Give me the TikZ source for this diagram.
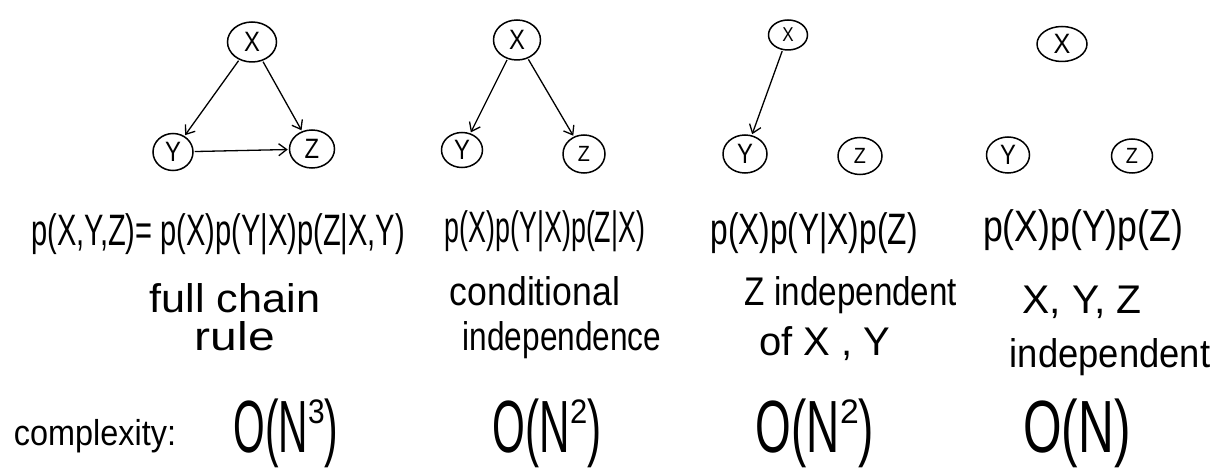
\documentclass[tikz,border=0pt]{standalone}
\usepackage{fontspec}
\setmainfont{Liberation Sans}
\usetikzlibrary{arrows.meta,shapes.geometric}
\newcommand\hw[2]{\scalebox{#1}[1]{#2}}
\newcommand\supr[1]{\raisebox{0.38em}{\fontsize{34}{34}\selectfont\scalebox{1.6}[1]{#1}}}
\begin{document}
\begin{tikzpicture}[x=1pt,y=-1pt,
  var/.style={draw, line width=1.5pt, ellipse, inner sep=0pt, font=\fontsize{28}{28}\selectfont},
  arr/.style={line width=1.3pt, -{Straight Barb[length=8pt,width=12pt]}, shorten >=1pt, shorten <=1pt},
  eqtxt/.style={inner sep=0pt, anchor=base, font=\fontsize{44}{48}\selectfont},
  desc/.style={inner sep=0pt, anchor=base, font=\fontsize{40}{44}\selectfont},
  cplx/.style={inner sep=0pt, anchor=base, font=\fontsize{74}{78}\selectfont}]
\useasboundingbox (0,0) rectangle (1217,470);
% graph 1
\node[var, minimum width=49pt, minimum height=40pt] (x1) at (252,42) {\hw{0.85}{X}};
\node[var, minimum width=40pt, minimum height=37pt] (y1) at (173,152) {\hw{0.85}{Y}};
\node[var, minimum width=45pt, minimum height=38pt] (z1) at (312,149) {\hw{0.85}{Z}};
\draw[arr] (x1) -- (y1);
\draw[arr] (x1) -- (z1);
\draw[arr] (y1) -- (z1);
% graph 2
\node[var, minimum width=47pt, minimum height=40pt] (x2) at (517,40) {\hw{0.85}{X}};
\node[var, minimum width=41pt, minimum height=35pt] (y2) at (462,150) {\hw{0.85}{Y}};
\node[var, minimum width=42pt, minimum height=38pt, font=\fontsize{22}{22}\selectfont] (z2) at (584,154) {\hw{0.9}{Z}};
\draw[arr] (x2) -- (y2);
\draw[arr] (x2) -- (z2);
% graph 3
\node[var, minimum width=39pt, minimum height=30pt, font=\fontsize{20}{20}\selectfont] (x3) at (788,35) {\hw{0.85}{X}};
\node[var, minimum width=44pt, minimum height=38pt] (y3) at (745,154) {\hw{0.85}{Y}};
\node[var, minimum width=44pt, minimum height=37pt, font=\fontsize{22}{22}\selectfont] (z3) at (860,156) {\hw{0.9}{Z}};
\draw[arr] (x3) -- (y3);
% graph 4
\node[var, minimum width=50pt, minimum height=35pt] (x4) at (1062,44) {\hw{0.9}{X}};
\node[var, minimum width=43pt, minimum height=36pt] (y4) at (1008,155) {\hw{0.85}{Y}};
\node[var, minimum width=41pt, minimum height=34pt, font=\fontsize{22}{22}\selectfont] (z4) at (1132,156) {\hw{0.9}{Z}};
% formulas
\node[eqtxt] (f1) at (218,246) {\hw{0.66}{p(X,Y,Z)= p(X)p(Y|X)p(Z|X,Y)}};
\node[eqtxt] (f2) at (545,243) {\hw{0.61}{p(X)p(Y|X)p(Z|X)}};
\node[eqtxt] (f3) at (814,245) {\hw{0.72}{p(X)p(Y|X)p(Z)}};
\node[eqtxt] (f4) at (1083,241) {\hw{0.81}{p(X)p(Y)p(Z)}};
% descriptions
\node[desc] (d1a) at (235,312) {\hw{1.08}{full chain}};
\node[desc] (d1b) at (235,350) {\hw{1.2}{rule}};
\node[desc] (d2a) at (535,305) {\hw{0.89}{conditional}};
\node[desc] (d2b) at (562,350) {\hw{0.79}{independence}};
\node[desc] (d3a) at (851,305) {\hw{0.83}{Z independent}};
\node[desc] (d3b) at (825,355) {\hw{1.0}{of X , Y}};
\node[desc] (d4a) at (1082,313) {\hw{1.02}{X, Y, Z}};
\node[desc] (d4b) at (1110,367) {\hw{0.91}{independent}};
% complexity
\node[inner sep=0pt, anchor=base, font=\fontsize{36}{36}\selectfont] (c0) at (95,445) {\hw{0.9}{complexity:}};
\node[cplx] (c1) at (286,452) {\hw{0.55}{O(N\supr{3})}};
\node[cplx] (c2) at (547,452) {\hw{0.57}{O(N\supr{2})}};
\node[cplx] (c3) at (815,452) {\hw{0.62}{O(N\supr{2})}};
\node[cplx] (c4) at (1077,452) {\hw{0.67}{O(N)}};
\end{tikzpicture}
\end{document}
